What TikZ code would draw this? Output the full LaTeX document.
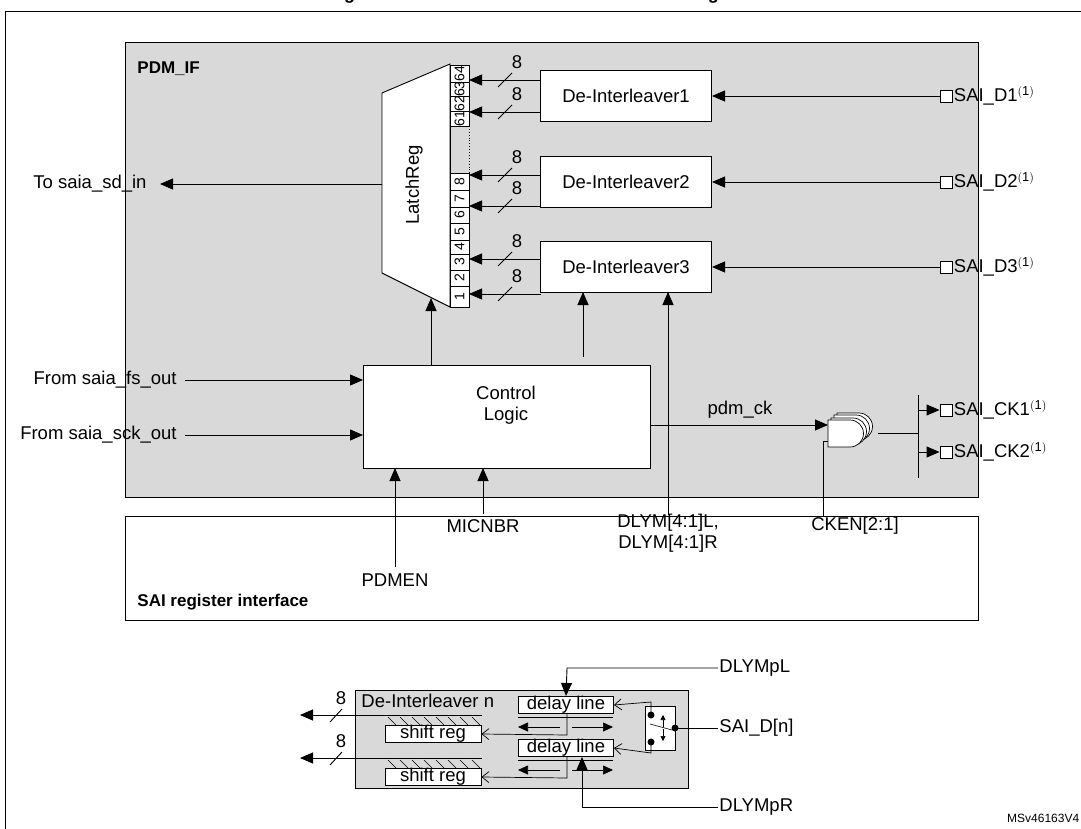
\documentclass[tikz,border=0pt]{standalone}
\usepackage{fontspec}
\setmainfont{Liberation Sans}
\usetikzlibrary{arrows.meta}
\begin{document}
\begin{tikzpicture}[x=1pt,y=-1pt,line width=0.9pt,
  font=\fontsize{18.5}{21}\selectfont,
  arr/.style={-{Triangle[length=13pt,width=11pt]}},
  sarr/.style={-{Triangle[length=10pt,width=9pt]}},
  oarr/.style={-{Straight Barb[length=7pt,width=11pt,line width=0.7pt]}},
  box/.style={draw,fill=white,inner sep=0pt},
  pin/.style={draw,fill=white,minimum size=12pt,inner sep=0pt},
  lbl/.style={inner sep=1pt}]
\useasboundingbox (0,0) rectangle (1081,829);
\node[font=\bfseries\fontsize{18}{20}\selectfont] (title) at (540,-5) {Figure 334. Detailed PDM interface block diagram};
\draw (5,11) rectangle (1090,840);
% PDM_IF
\node[draw,fill=black!15,minimum width=853pt,minimum height=455pt,anchor=north west,inner sep=0pt] (pdmif) at (125,42) {};
\node[lbl,anchor=west,font=\bfseries\fontsize{17}{19}\selectfont] (pdmlbl) at (136,69) {PDM\_IF};
% LatchReg
\draw[fill=white] (382,93) -- (450,64) -- (450,307) -- (382,273) -- cycle;
\node[rotate=90] (latch) at (414,185) {LatchReg};
\foreach \a/\b/\t in {65/82/64,82/96/63,96/111/62,111/126/61,173/190/8,190/207/7,207/223/6,223/240/5,240/254/4,254/270/3,270/286/2,286/307/1}{
  \draw[fill=white] (450,\a) rectangle (469,\b);
  \node[rotate=90,font=\fontsize{14}{15}\selectfont,inner sep=0pt] at (459.5,{(\a+\b)/2}) {\t};
}
\draw (450,126) -- (450,173);
\draw[dotted] (469,126) -- (469,173);
% De-interleavers
\node[box,minimum width=171pt,minimum height=51pt] (d1) at (626,96) {De-Interleaver1};
\node[box,minimum width=171pt,minimum height=51pt] (d2) at (626,182) {De-Interleaver2};
\node[box,minimum width=171pt,minimum height=51pt] (d3) at (626,267) {De-Interleaver3};
\foreach \y in {80,112,175,206,259,294}{
  \draw[arr] (541,\y) -- (469,\y);
  \draw (498,\y+7) -- (512,\y-7);
  \node at (517,\y-18) {8};
}
% SAI pins
\foreach \n/\y/\d in {p1/96/1,p2/182/2,p3/267/3}{
  \node[pin] (\n) at (946,\y) {};
  \draw[arr] (\n.west) -- (712,\y);
  \node[lbl,anchor=west] at (\n.east) {SAI\_D\d$^{\mathrm{(1)}}$};
}
% to saia_sd_in
\node[lbl,anchor=east] (tosd) at (148,184) {To saia\_sd\_in};
\draw[arr] (382,184) -- (160,184);
% control logic
\node[box,minimum width=287pt,minimum height=103pt,anchor=north west] (ctl) at (363,365) {};
\node[align=center] at (506,405) {Control\\Logic};
\draw[arr] (431,365) -- (431,298);
\draw[arr] (583,357) -- (583,292);
\node[lbl,anchor=east] (fs) at (178,380) {From saia\_fs\_out};
\node[lbl,anchor=east] (sck) at (178,435) {From saia\_sck\_out};
\draw[arr] (185,380) -- (363,380);
\draw[arr] (185,435) -- (363,435);
% register interface
\node[draw,fill=white,minimum width=853pt,minimum height=104pt,anchor=north west,inner sep=0pt] (reg) at (125,516) {};
\node[lbl,anchor=west,font=\bfseries\fontsize{17}{19}\selectfont] at (136,602) {SAI register interface};
\node[lbl] (pdmen) at (395,580) {PDMEN};
\node[lbl] (micnbr) at (483,526) {MICNBR};
\node[lbl,align=center,anchor=north] (dlym) at (668,513) {DLYM[4:1]L,\\DLYM[4:1]R};
\node[lbl] (cken) at (855,526) {CKEN[2:1]};
\draw[arr] (395,567) -- (395,468);
\draw[arr] (483,514) -- (483,468);
\draw[arr] (668,515) -- (668,292);
% pdm_ck and gates
\draw[arr] (650,425) -- (828,425);
\node[lbl] at (740,410) {pdm\_ck};
\foreach \dx/\dy in {9/-7,6/-5,3/-2,0/0}{
  \draw[fill=white,line width=0.7pt] (828+\dx,420+\dy) -- ++(22,0) arc(-90:90:13.5) -- ++(-22,0) -- cycle;
}
\draw (823,441) -- (828,441);
\draw (823,441) -- (823,516);
\draw (878,433) -- (918,433);
\draw (918,395) -- (918,478);
\node[pin] (ck1) at (946,410) {};
\node[pin] (ck2) at (946,452) {};
\draw[arr] (918,410) -- (ck1.west);
\draw[arr] (918,452) -- (ck2.west);
\node[lbl,anchor=west] at (ck1.east) {SAI\_CK1$^{\mathrm{(1)}}$};
\node[lbl,anchor=west] at (ck2.east) {SAI\_CK2$^{\mathrm{(1)}}$};
% De-Interleaver n detail
\node[draw,fill=black!15,minimum width=333pt,minimum height=98pt,anchor=north west,inner sep=0pt] (dn) at (355,690) {};
\node[lbl,anchor=west] at (360,701) {De-Interleaver n};
\node[box,minimum width=95pt,minimum height=17pt] (dl1) at (566,705) {delay line};
\node[box,minimum width=95pt,minimum height=17pt] (dl2) at (566,748) {delay line};
\node[box,minimum width=96pt,minimum height=17pt] (sr1) at (433,734) {shift reg};
\node[box,minimum width=96pt,minimum height=17pt] (sr2) at (433,777) {shift reg};
\foreach \y/\s in {715/sr1,758/sr2}{
  \draw[arr] (482,\y) -- (300,\y);
  \draw (330,\y+7) -- (342,\y-6);
  \node at (341,\y-17) {8};
  \foreach \i in {0,...,7}{ \draw[line width=0.6pt] (388+\i*12,\y+2) -- (396+\i*12,\y+10); }
  \draw[line width=0.6pt] (518,\y+2) -- (613,\y+2);
  \draw[sarr,line width=0.7pt] (560,\y+12) -- (518,\y+12);
  \draw[sarr,line width=0.7pt] (572,\y+12) -- (613,\y+12);
}
\draw[oarr,line width=0.7pt] (567,714) -- (567,735) -- (sr1.east);
\draw[oarr,line width=0.7pt] (567,757) -- (567,778) -- (sr2.east);
\node[draw,fill=white,minimum width=30pt,minimum height=44pt,anchor=north west,inner sep=0pt] (sw) at (645,706) {};
\fill (651,715) circle (3.5pt) (651,742) circle (3.5pt) (675,728) circle (3.5pt);
\draw[line width=0.6pt] (650,724) -- (672,730);
\draw[-{Triangle[length=5pt,width=5pt]},line width=0.6pt] (663,727) -- (663,715);
\draw[-{Triangle[length=5pt,width=5pt]},line width=0.6pt] (663,729) -- (663,741);
\draw[oarr,line width=0.7pt] (651,715) -- (651,702) -- (dl1.east);
\draw[oarr,line width=0.7pt] (651,742) -- (651,753) -- (dl2.east);
\node[lbl,anchor=west] (sdn) at (718,728) {SAI\_D[n]};
\draw (675,728) -- (sdn.west);
\node[lbl,anchor=west] (pl) at (718,668) {DLYMpL};
\node[lbl,anchor=west] (pr) at (718,807) {DLYMpR};
\draw[arr] (pl.west) -- (567,668) -- (dl1.north);
\draw[arr] (pr.west) -- (582,807) -- (582,757);
\node[font=\fontsize{12}{13}\selectfont,anchor=east] at (1083,818) {MSv46163V4};
\end{tikzpicture}
\end{document}
